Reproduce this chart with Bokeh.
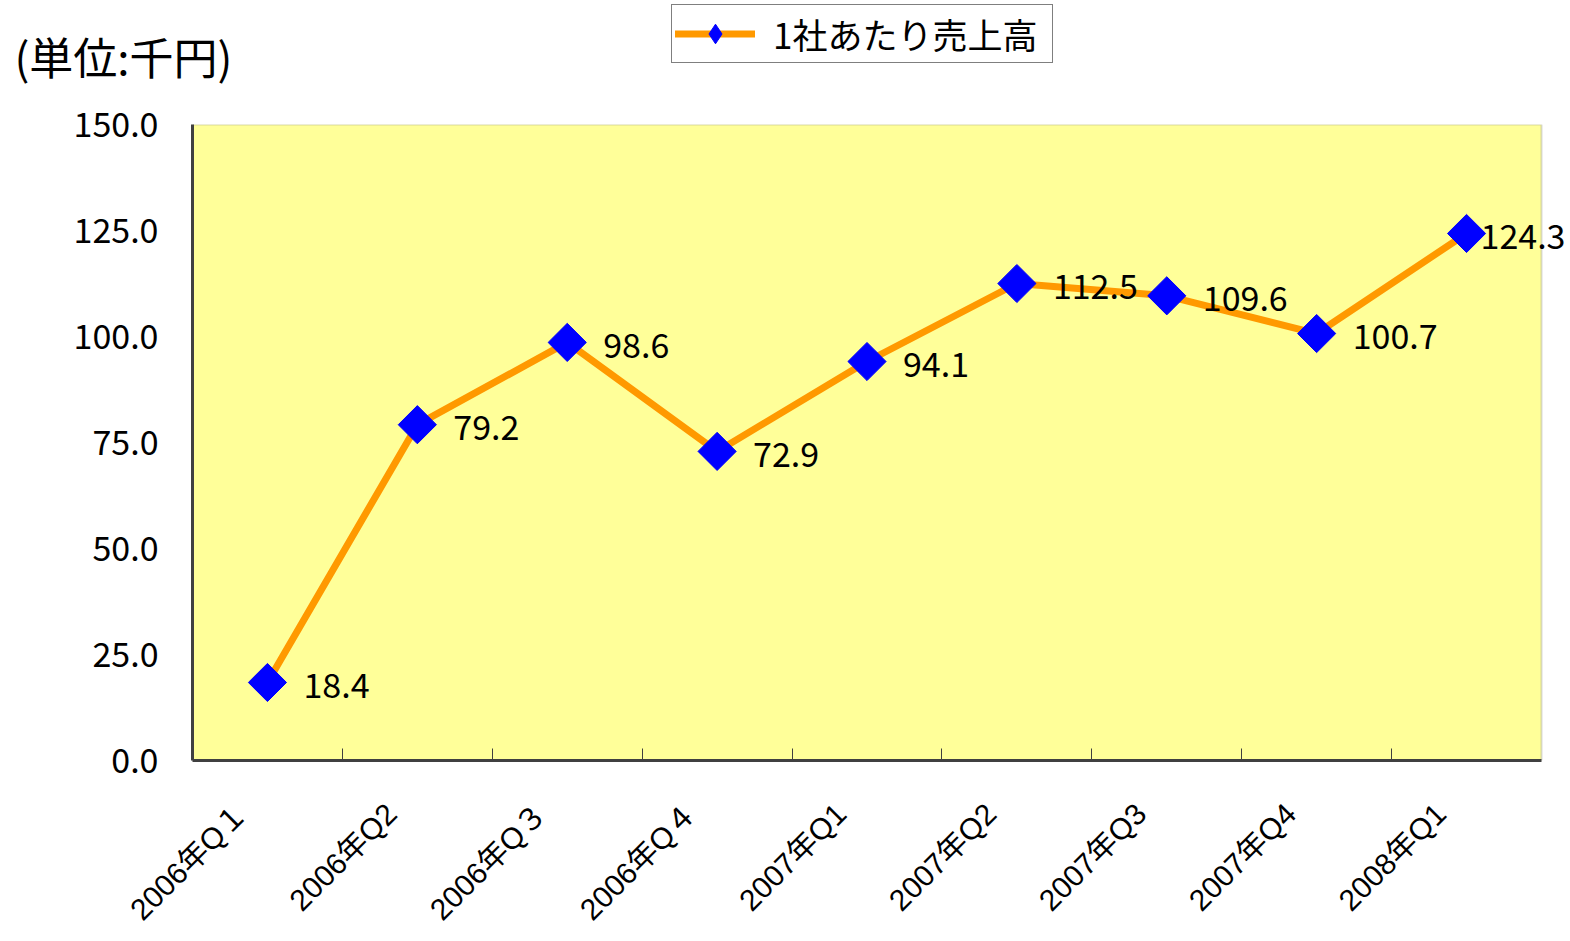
import numpy as np
from bokeh.plotting import figure
from bokeh.layouts import column
from bokeh.models import (ColumnDataSource, FixedTicker, NumeralTickFormatter, Range1d,
                          Legend, LegendItem, Label, LabelSet, BoxAnnotation)
from bokeh.core.properties import value
from bokeh.embed import file_html
from bokeh.resources import INLINE

categories = ["2006年Q１", "2006年Q2", "2006年Q３", "2006年Q４", "2007年Q1",
              "2007年Q2", "2007年Q3", "2007年Q4", "2008年Q1"]
sales = [18.4, 79.2, 98.6, 72.9, 94.1, 112.5, 109.6, 100.7, 124.3]
series_name = "1社あたり売上高"
unit_label = "(単位:千円)"
y_ticks = [0, 25, 50, 75, 100, 125, 150]

FONT = "Noto Sans CJK JP"
FONT_X = "Liberation Sans, Noto Sans CJK JP"
ORANGE = "#FF9900"
BLUE = "#0000FF"

W = 1568
HEADER_H = 94
TOP_GAP = 30
PLOT_H = 636
MAIN_H = 940 - HEADER_H
LEFT = 192
PLOT_W = 1349
EXTRA_RIGHT = W - LEFT - PLOT_W

n = len(categories)
xs = list(range(1, n + 1))
px_per_cat = PLOT_W / n
x_start, x_end_plot = 0.5, n + 0.5
x_end = x_end_plot + EXTRA_RIGHT / px_per_cat
label_shift = 26 / px_per_cat
label_xoff = [36] * (n - 1) + [14]

src = ColumnDataSource(dict(x=xs, y=sales, txt=[f"{v:.1f}" for v in sales], xoff=label_xoff))


def no_align(fig):
    if "frame_align" in fig.properties():
        fig.frame_align = False


# ---------------- header: unit label and legend ----------------
hdr = figure(width=W, height=HEADER_H, output_backend="svg", toolbar_location=None,
             x_range=Range1d(0, W), y_range=Range1d(0, HEADER_H),
             x_axis_location=None, y_axis_location=None,
             min_border_left=0, min_border_right=0, min_border_top=0, min_border_bottom=0)
no_align(hdr)
hdr.grid.visible = False
hdr.outline_line_color = None
hdr.background_fill_color = "white"

ln_leg = hdr.line("x", "y", source=src, line_color=ORANGE, line_width=7, line_cap="round",
                  visible=False)
sc_leg = hdr.scatter("x", "y", source=src, marker="diamond", size=20,
                     fill_color=BLUE, line_color=BLUE, visible=False)
legend = Legend(items=[LegendItem(label=series_name, renderers=[ln_leg, sc_leg])],
                location=(671, HEADER_H - 63))
legend.label_text_font = FONT
legend.label_text_font_size = "35px"
legend.label_text_color = "black"
legend.glyph_width = 80
legend.glyph_height = 49
legend.label_standoff = 18
legend.label_width = 276
legend.padding = 3
legend.margin = 0
legend.border_line_color = "black"
legend.border_line_width = 1
legend.background_fill_color = "white"
legend.background_fill_alpha = 1
legend.inactive_fill_alpha = 0
hdr.add_layout(legend)

hdr.add_layout(Label(x=14, y=HEADER_H - 55, text=unit_label,
                     text_font=FONT, text_font_size="44px", text_color="black",
                     text_baseline="middle", text_align="left"))

# ---------------- main chart ----------------
p = figure(width=W, height=MAIN_H, output_backend="svg", toolbar_location=None,
           x_range=Range1d(x_start, x_end), y_range=Range1d(0, 150),
           min_border_left=LEFT, min_border_top=TOP_GAP, min_border_right=0,
           min_border_bottom=MAIN_H - TOP_GAP - PLOT_H)
no_align(p)
p.background_fill_color = "white"
p.border_fill_color = "white"
p.outline_line_color = None

p.add_layout(BoxAnnotation(left=x_start, right=x_end_plot, bottom=0, top=150,
                           fill_color="#FFFF99", fill_alpha=1,
                           line_color="#808080", line_width=2, level="underlay"))

# bottom axis on a label range shifted a little, so labels sit left of centre
p.extra_x_ranges = {"labels": Range1d(x_start + label_shift, x_end + label_shift)}
xa = p.xaxis[0]
xa.x_range_name = "labels"
xa.bounds = (x_start + label_shift, x_end_plot + label_shift)
xa.ticker = FixedTicker(ticks=xs, minor_ticks=[i + 0.5 + label_shift for i in range(1, n)])
xa.major_label_overrides = {x: c for x, c in zip(xs, categories)}
xa.major_tick_line_color = None
xa.minor_tick_in = 12
xa.minor_tick_out = 0
xa.minor_tick_line_color = "#404040"
xa.minor_tick_line_width = 1
xa.axis_line_color = "#404040"
xa.axis_line_width = 3
xa.major_label_orientation = np.pi / 4
xa.major_label_text_font = FONT_X
xa.major_label_text_font_size = "30px"
xa.major_label_text_color = "black"
xa.major_label_standoff = 42

# y axis
ya = p.yaxis[0]
ya.bounds = (0, 150)
ya.ticker = FixedTicker(ticks=y_ticks)
ya.formatter = NumeralTickFormatter(format="0.0")
ya.major_tick_line_color = None
ya.minor_tick_line_color = None
ya.axis_line_color = "#404040"
ya.axis_line_width = 3
ya.major_label_text_font = FONT
ya.major_label_text_font_size = "34px"
ya.major_label_text_color = "black"
ya.major_label_standoff = 28

p.xgrid.grid_line_color = None
yg = p.ygrid[0]
yg.ticker = FixedTicker(ticks=y_ticks[1:-1])
yg.grid_line_color = "black"
yg.grid_line_dash = "5 4"
yg.grid_line_width = 1
if "cross_bounds" in yg.properties():
    yg.cross_bounds = (x_start, x_end_plot)

ln = p.line("x", "y", source=src, line_color=ORANGE, line_width=7)
sc = p.scatter("x", "y", source=src, marker="square", size=27, angle=np.pi / 4,
               fill_color=BLUE, line_color=BLUE)

p.add_layout(LabelSet(x="x", y="y", text="txt", source=src, x_offset="xoff", y_offset=-3,
                      text_font=value(FONT), text_font_size="34px", text_baseline="middle",
                      text_align="left", text_color="black"))

layout = column(hdr, p, spacing=0)
open("out.html", "w").write(file_html(layout, INLINE))
